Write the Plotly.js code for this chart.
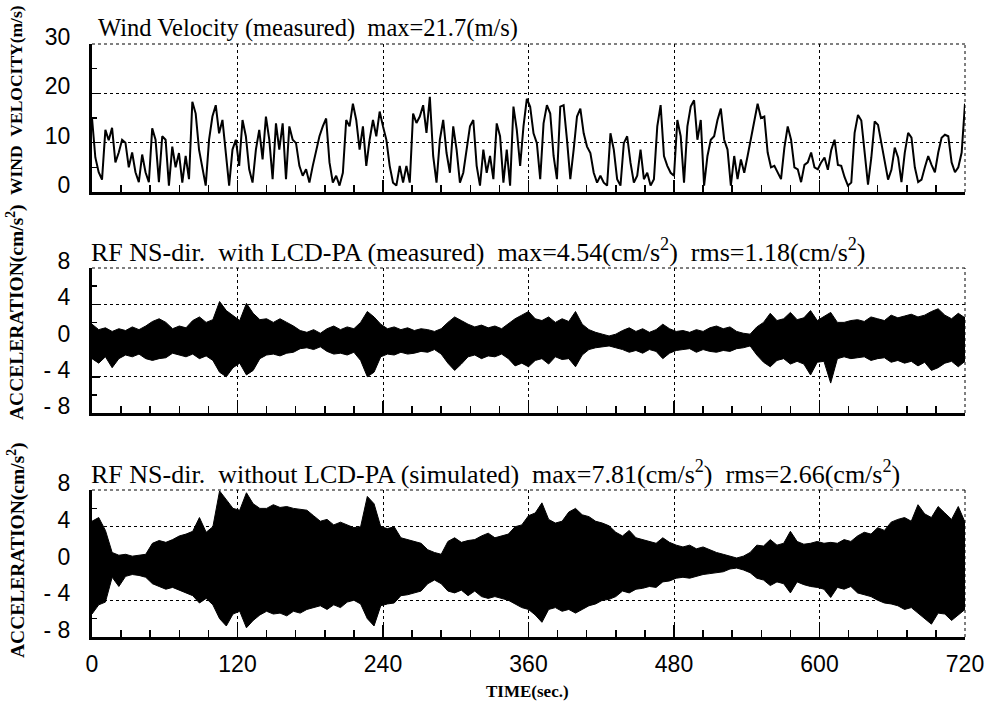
<!DOCTYPE html>
<html><head><meta charset="utf-8">
<script src="https://cdn.plot.ly/plotly-3.0.1.min.js"></script>
<style>html,body{margin:0;padding:0;background:#fff}#chart{width:990px;height:708px}</style>
</head><body><div id="chart"></div>
<script>
// ---- axis ticks ----
const timeTicks = [0, 120, 240, 360, 480, 600, 720];
const windTickVals = [0, 10, 20, 30];
const windTickText = ['0', '10', '20', '30'];
const accTickVals = [-8, -4, 0, 4, 8];
const accTickText = ['- 8', '- 4', '0', '4', '8'];

// ---- wind velocity (m/s), sampled every ~2.76 s over 0..720 s ----
const windVel = [
15,7,4,2.5,12.6,10.5,13,6,8,10.6,10,5,8,4,2,7.6,4,2,12.9,10.6,2,11.3,10.6,1.3,9.2,5,7.9,1.9,7.3,2.6,
18.3,15.9,8.6,5.3,1.3,10.6,15.3,17.6,11.9,14.6,7.3,1.3,8.6,10.6,5.3,14.6,11.3,4.6,1.9,8.6,12.6,6.6,15.3,10.6,2.6,
13.9,8.6,13.9,2.6,13.3,10.6,9.9,5.3,3.3,4.6,1.9,5.3,8.6,11.3,13.3,14.9,6,1.9,3.3,1.3,3.9,14.6,13.3,17.9,14.6,8.6,
13.3,5.3,10.6,14.6,
11.3,16.3,13.3,10.6,5.3,1.9,1.3,5.3,1.9,5.3,1.9,15.9,14,15.3,17.6,12,19.3,7.3,1.9,10.6,14.6,7.9,3.9,13.3,8.6,1.9,
3.9,8.6,13.3,14.6,5.3,1.3,8.6,3.9,7.3,2.6,13.9,11.3,1.9,8.6,1.3,17.3,12.6,5.3,13.3,18.9,17.3,11.9,9.9,2.6,13.9,
17.6,15.9,7.3,2.6,17.3,17.6,10.6,2.6,8.6,15.3,16.9,11.9,9.2,7.9,3.9,1.9,3.3,1.9,1.3,11.9,8.6,2.6,1.3,9.9,11.3,
5.9,1.9,3.3,8.6,2.6,3.9,1.3,2.6,13.3,17.6,
7.3,5.3,3.9,3.3,14.6,11.3,1.9,13.3,17.3,18.6,10.6,14.6,1.3,7.3,10.6,11.3,14.6,16.9,10.6,8.6,1.3,7.3,2.6,6.6,3.9,
7.3,10.6,13.9,17.9,15,15.3,8,5,5.3,3.9,2.6,9,13.3,10.6,5,4.6,2,5.5,6,8,5,4.6,6,7,4.5,8.5,10.6,5.5,5.3,3,1.3,1.9,
12,15.6,14.5,8,1.5,7,14.3,13.6,10,6,2.5,4.5,9,7,2,8,12,11,5,2,2.5,5,7.3,5.5,4,8,11,11.6,11.3,6,4,5,8,17.9
];

// ---- acceleration envelopes (cm/s^2), sampled every ~5.5 s ----
const accWithUpper = [
1.8,1.2,1.4,1.0,1.3,1.1,1.5,1.2,1.6,2.1,2.4,2.0,1.3,1.6,1.4,2.2,2.6,2.0,2.3,4.3,
3.3,2.8,2.2,4.1,3.0,2.3,2.4,2.0,2.4,2.0,1.6,1.1,0.9,1.2,0.8,1.3,1.6,1.2,1.5,1.3,
2.0,3.2,2.6,1.8,1.3,1.5,1.2,1.4,1.1,1.3,1.2,1.0,1.3,2.0,2.6,2.2,1.8,1.5,1.7,1.4,
1.6,1.3,1.8,2.4,2.8,3.2,2.4,2.2,2.6,2.0,2.4,2.1,3.2,1.8,1.2,0.9,0.7,0.5,0.7,1.1,
1.4,1.0,1.3,0.9,1.2,1.8,1.3,1.0,1.1,0.9,1.2,1.0,1.4,1.6,1.3,1.5,1.0,0.8,0.7,1.5,
2.0,3.0,2.2,2.4,3.1,2.3,2.5,3.3,2.2,2.7,3.1,2.0,2.0,2.2,2.3,2.1,2.6,2.4,2.2,2.8,
2.5,2.7,2.9,2.6,2.8,3.2,3.5,2.8,2.4,3.0,2.5
];
const accWithLower = [
-2.0,-2.5,-1.8,-3.0,-2.0,-1.6,-1.8,-1.5,-2.0,-2.2,-2.0,-1.9,-1.4,-1.6,-1.8,-1.5,-2.0,-1.7,-2.2,-3.5,
-4.0,-3.0,-2.5,-3.8,-3.3,-2.0,-1.6,-1.5,-1.7,-1.4,-1.3,-0.9,-0.8,-1.0,-0.7,-1.2,-1.5,-1.4,-1.6,-1.3,
-2.2,-4.0,-3.5,-1.8,-1.5,-1.6,-1.3,-1.5,-1.4,-1.2,-1.3,-1.0,-1.5,-2.5,-3.3,-2.6,-1.8,-1.6,-2.0,-1.7,
-1.8,-1.5,-2.0,-2.8,-2.5,-2.9,-2.2,-2.0,-2.6,-1.8,-2.1,-2.0,-2.9,-1.6,-1.0,-0.8,-0.7,-0.6,-0.8,-1.0,
-1.3,-1.1,-1.4,-1.0,-1.2,-2.0,-1.4,-1.1,-1.0,-0.9,-1.3,-1.0,-1.2,-1.3,-1.1,-1.2,-0.9,-0.8,-0.6,-1.6,
-2.4,-2.9,-2.2,-2.0,-2.6,-2.3,-2.6,-3.8,-2.4,-2.3,-4.7,-2.0,-1.8,-2.0,-1.9,-1.8,-2.2,-2.0,-1.9,-2.4,
-2.2,-2.5,-2.3,-2.8,-2.4,-3.3,-3.0,-2.5,-2.3,-2.9,-2.3
];
const accWithoutUpper = [
4.6,5.0,3.6,1.2,0.9,1.0,0.8,0.9,1.0,2.2,2.5,2.3,2.6,3.0,3.2,3.5,5.0,3.4,4.0,7.9,
7.0,6.0,5.8,7.7,6.5,6.0,6.0,6.4,6.1,6.2,6.0,5.9,5.8,5.2,4.6,4.8,4.2,4.5,4.2,3.9,
4.0,7.3,6.5,4.0,3.8,4.0,2.8,2.6,2.4,2.2,1.5,1.2,1.0,2.4,2.8,2.3,2.5,2.6,3.0,3.3,
2.8,3.0,3.2,4.0,4.2,5.2,5.5,6.6,4.8,4.4,4.6,5.6,6.0,5.3,5.1,4.6,4.4,4.1,3.4,3.0,
3.6,2.8,2.6,2.4,2.2,2.8,2.3,2.0,1.8,2.0,1.6,1.8,1.5,1.2,1.0,0.8,0.6,0.8,1.2,2.0,
1.9,2.6,2.0,2.2,3.5,2.4,2.1,2.2,2.4,2.2,2.3,2.2,2.6,2.4,3.0,3.4,3.2,3.9,3.6,4.5,
4.8,5.0,4.6,6.4,5.4,5.0,6.2,5.5,4.8,6.2,4.5
];
const accWithoutLower = [
-5.5,-4.5,-4.2,-1.5,-2.5,-1.4,-1.2,-1.3,-1.5,-2.2,-2.5,-2.8,-2.6,-2.9,-3.2,-3.5,-4.3,-3.8,-4.5,-6.0,
-6.8,-5.5,-5.2,-7.0,-6.2,-5.6,-5.2,-5.5,-5.4,-5.7,-5.2,-5.4,-5.0,-4.8,-4.6,-5.0,-4.5,-4.8,-4.2,-4.0,
-4.4,-6.0,-6.8,-4.6,-4.4,-4.3,-3.5,-3.4,-3.2,-3.0,-2.2,-1.8,-2.2,-3.0,-3.2,-2.9,-3.5,-3.0,-3.6,-3.8,
-3.6,-3.8,-4.0,-4.4,-4.8,-5.0,-5.6,-6.4,-5.0,-4.8,-5.2,-5.0,-5.4,-5.0,-4.6,-4.4,-4.0,-3.9,-3.6,-3.0,
-3.2,-2.8,-2.7,-2.5,-2.6,-2.0,-1.9,-1.6,-1.5,-1.6,-1.4,-1.2,-1.1,-1.0,-0.9,-0.6,-0.5,-0.7,-1.0,-1.6,
-1.8,-2.4,-2.0,-2.2,-3.2,-2.0,-2.3,-2.5,-2.6,-2.8,-3.7,-2.6,-2.8,-2.5,-3.2,-3.4,-3.6,-4.0,-4.3,-4.4,
-4.6,-5.0,-4.8,-5.4,-6.0,-6.6,-5.4,-5.5,-6.2,-5.6,-5.0
];

// ---- texts ----
const gap = '\u00a0\u00a0';
const panelTitles = [
  'Wind Velocity (measured)' + gap + 'max=21.7(m/s)',
  'RF NS-dir.' + gap + 'with LCD-PA (measured)' + gap + 'max=4.54(cm/s<sup>2</sup>)' + gap + 'rms=1.18(cm/s<sup>2</sup>)',
  'RF NS-dir.' + gap + 'without LCD-PA (simulated)' + gap + 'max=7.81(cm/s<sup>2</sup>)' + gap + 'rms=2.66(cm/s<sup>2</sup>)'
];
const yTitles = ['WIND' + gap + 'VELOCITY(m/s)', 'ACCELERATION(cm/s<sup>2</sup>)', 'ACCELERATION(cm/s<sup>2</sup>)'];
const xTitle = 'TIME(sec.)';

// ---- styling ----
const sans = '"Liberation Sans", Arial, sans-serif';
const serif = '"Liberation Serif", "Times New Roman", serif';
const W = 990, H = 708, L = 92, R = 25;
const plotW = W - L - R;
const py = p => 1 - p / H;
const px = p => (p - L) / plotW;
const domains = [[py(192), py(44)], [py(413), py(268)], [py(637), py(490)]];
const tickFont = {family: sans, size: 23, color: '#000'};

function xAx(anchor, labels) {
  return {
    anchor: anchor, domain: [0, 1], range: [0, 720], tickmode: 'array', tickvals: timeTicks,
    ticks: 'inside', ticklen: 12, tickwidth: 1.5, tickcolor: '#000',
    minor: {tickmode: 'linear', tick0: 0, dtick: 24, ticks: 'inside', ticklen: 7, tickwidth: 1.5, tickcolor: '#000', showgrid: false},
    showgrid: true, griddash: 'dot', gridcolor: '#000', gridwidth: 1,
    showline: true, linecolor: '#000', linewidth: 3, mirror: false, zeroline: false,
    showticklabels: labels, tickfont: tickFont, ticklabelstandoff: 4,
    fixedrange: true
  };
}
function yAx(anchor, dom, range, vals, text, minorStep) {
  return {
    anchor: anchor, domain: dom, range: range, tickmode: 'array', tickvals: vals, ticktext: text,
    ticks: 'inside', ticklen: 8, tickwidth: 1.5, tickcolor: '#000',
    minor: {tickmode: 'linear', tick0: 0, dtick: minorStep, ticks: 'inside', ticklen: 5, tickwidth: 1.5, tickcolor: '#000', showgrid: false},
    showgrid: true, griddash: 'dot', gridcolor: '#000', gridwidth: 1,
    showline: true, linecolor: '#000', linewidth: 3, mirror: false, zeroline: false,
    tickfont: tickFont, ticklabelstandoff: 14, ticklabelshift: -7,
    fixedrange: true
  };
}

const n1 = windVel.length, n2 = accWithUpper.length;
const traces = [
  {type: 'scatter', mode: 'lines', xaxis: 'x', yaxis: 'y', x0: 0, dx: 720 / (n1 - 1), y: windVel,
   line: {color: '#000', width: 2}, hoverinfo: 'skip'},
  {type: 'scatter', mode: 'lines', xaxis: 'x2', yaxis: 'y2', x0: 0, dx: 720 / (n2 - 1), y: accWithLower,
   line: {color: '#000', width: 1}, hoverinfo: 'skip'},
  {type: 'scatter', mode: 'lines', xaxis: 'x2', yaxis: 'y2', x0: 0, dx: 720 / (n2 - 1), y: accWithUpper,
   line: {color: '#000', width: 1}, fill: 'tonexty', fillcolor: '#000', hoverinfo: 'skip'},
  {type: 'scatter', mode: 'lines', xaxis: 'x3', yaxis: 'y3', x0: 0, dx: 720 / (n2 - 1), y: accWithoutLower,
   line: {color: '#000', width: 1}, hoverinfo: 'skip'},
  {type: 'scatter', mode: 'lines', xaxis: 'x3', yaxis: 'y3', x0: 0, dx: 720 / (n2 - 1), y: accWithoutUpper,
   line: {color: '#000', width: 1}, fill: 'tonexty', fillcolor: '#000', hoverinfo: 'skip'}
];

const shapes = [];
['', '2', '3'].forEach(s => {
  shapes.push({type: 'line', xref: 'x' + s + ' domain', yref: 'y' + s + ' domain', x0: 0, x1: 1, y0: 1, y1: 1,
    line: {color: '#000', width: 1, dash: 'dot'}});
  shapes.push({type: 'line', xref: 'x' + s + ' domain', yref: 'y' + s + ' domain', x0: 1, x1: 1, y0: 0, y1: 1,
    line: {color: '#000', width: 1, dash: 'dot'}});
});

const titleX = [96, 89, 89];
const titleY = [28, 250, 472];
const titleSize = [24.5, 26, 26];
const yTitleY = [100, 312, 550];
const yTitleSize = [17.5, 19.5, 19.5];
const annotations = [];
panelTitles.forEach((t, i) => annotations.push({
  text: t, xref: 'paper', yref: 'paper', x: px(titleX[i]), y: py(titleY[i]), xanchor: 'left', yanchor: 'middle',
  showarrow: false, font: {family: serif, size: titleSize[i], color: '#000'}
}));
yTitles.forEach((t, i) => annotations.push({
  text: t, xref: 'paper', yref: 'paper', x: px(16), y: py(yTitleY[i]), xanchor: 'center', yanchor: 'middle',
  textangle: -90, showarrow: false, font: {family: serif, size: yTitleSize[i], color: '#000', weight: 'bold'}
}));
annotations.push({
  text: xTitle, xref: 'paper', yref: 'paper', x: px(527), y: py(691), xanchor: 'center', yanchor: 'middle',
  showarrow: false, font: {family: serif, size: 17, color: '#000', weight: 'bold'}
});

const layout = {
  width: W, height: H, margin: {l: L, r: R, t: 0, b: 0}, paper_bgcolor: '#fff', plot_bgcolor: '#fff',
  showlegend: false,
  xaxis: xAx('y', false), xaxis2: xAx('y2', false), xaxis3: xAx('y3', true),
  yaxis: yAx('x', domains[0], [0, 30], windTickVals, windTickText, 5),
  yaxis2: yAx('x2', domains[1], [-8, 8], accTickVals, accTickText, 2),
  yaxis3: yAx('x3', domains[2], [-8, 8], accTickVals, accTickText, 2),
  shapes: shapes, annotations: annotations
};
Plotly.newPlot('chart', traces, layout, {staticPlot: true, displayModeBar: false});
</script></body></html>
